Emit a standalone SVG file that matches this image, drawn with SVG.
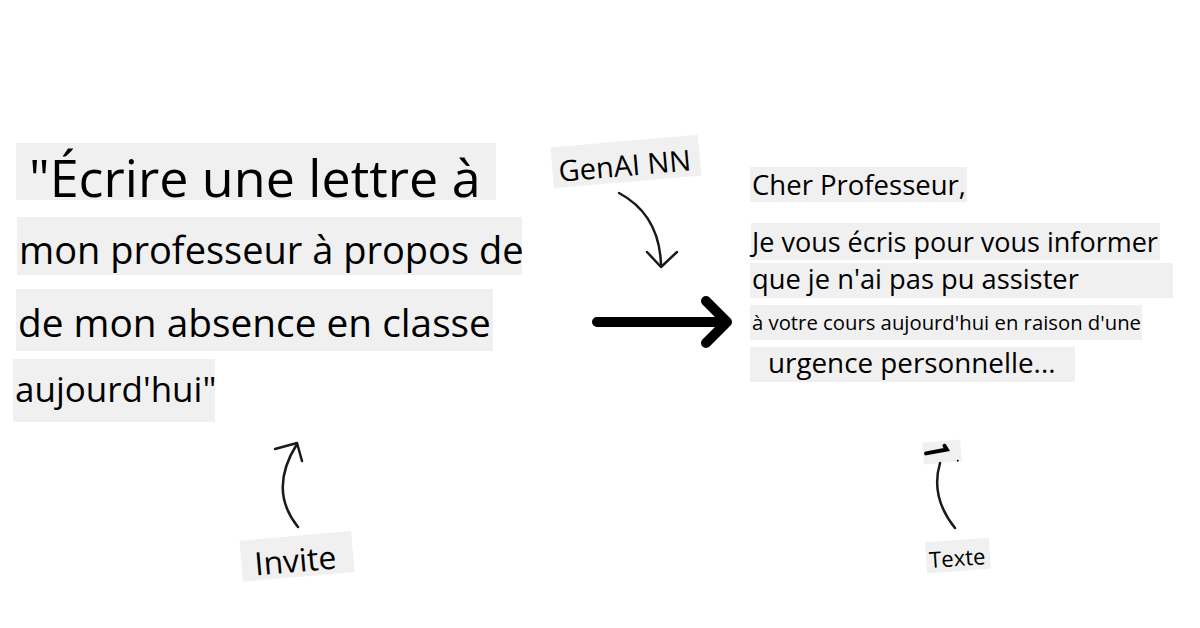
<svg xmlns="http://www.w3.org/2000/svg" width="1200" height="628" viewBox="0 0 1200 628">
<style>
.bg{fill:#f0f0f0}
.t{font-family:"Open Sans","Noto Sans",sans-serif;fill:#000}
.c{fill:none;stroke:#1a1a1a;stroke-width:2.5;stroke-linecap:round;stroke-linejoin:round}
</style>
<rect width="1200" height="628" fill="#fff"/>
<g id="prompt">
<rect class="bg" x="16" y="143" width="480" height="57"/>
<text class="t" x="29" y="197" font-size="52">"Écrire une lettre à</text>
<rect class="bg" x="17" y="217" width="505" height="58"/>
<text class="t" x="19" y="264" font-size="38">mon professeur à propos de</text>
<rect class="bg" x="16" y="289" width="477" height="62"/>
<text class="t" x="18" y="337" font-size="38.8">de mon absence en classe</text>
<rect class="bg" x="13" y="359" width="202" height="63"/>
<text class="t" x="15" y="402" font-size="35">aujourd'hui"</text>
</g>
<g id="genai" transform="rotate(-5 626 162)">
<rect class="bg" x="552" y="141" width="148" height="41"/>
<text class="t" x="558" y="176" font-size="29">GenAI NN</text>
</g>
<g id="output">
<rect class="bg" x="750" y="167" width="217" height="35"/>
<text class="t" x="752" y="195" font-size="27.5">Cher Professeur,</text>
<rect class="bg" x="751" y="223" width="409" height="37"/>
<text class="t" x="752" y="252" font-size="27">Je vous écris pour vous informer</text>
<rect class="bg" x="750" y="263" width="423" height="35"/>
<text class="t" x="752" y="289" font-size="27.3">que je n'ai pas pu assister</text>
<rect class="bg" x="750" y="305" width="392" height="35"/>
<text class="t" x="752" y="330" font-size="20.3">à votre cours aujourd'hui en raison d'une</text>
<rect class="bg" x="750" y="347" width="325" height="35"/>
<text class="t" x="768" y="373" font-size="27.8">urgence personnelle...</text>
</g>
<g id="invite" transform="rotate(-5 296 556)">
<rect class="bg" x="241" y="536" width="112" height="41"/>
<text class="t" x="254" y="572" font-size="32">Invite</text>
</g>
<g id="texte" transform="rotate(-4 958 556)">
<rect class="bg" x="926" y="540" width="64" height="31"/>
<text class="t" x="929" y="566" font-size="22">Texte</text>
</g>
<g id="texte-marker" transform="rotate(-5 942 452)">
<rect class="bg" x="923" y="441" width="38" height="22"/>
<path d="M926 452 L947 450 L945 446" fill="none" stroke="#000" stroke-width="4" stroke-linecap="round"/>
<circle cx="957" cy="462" r="1" fill="#000"/>
</g>
<g id="connectors">
<path class="c" d="M619 193 Q660 215 661 266"/>
<path class="c" d="M647 252 L661 267 L677 252"/>
<path d="M597 322 L727 322 M706 301 L727 322 L706 343" fill="none" stroke="#000" stroke-width="10" stroke-linecap="round" stroke-linejoin="round"/>
<path class="c" d="M298 527 Q268 490 297 444"/>
<path class="c" d="M275 449 L297 443 L302 461"/>
<path class="c" d="M955 528 Q930 497 940 463"/>
</g>
</svg>
